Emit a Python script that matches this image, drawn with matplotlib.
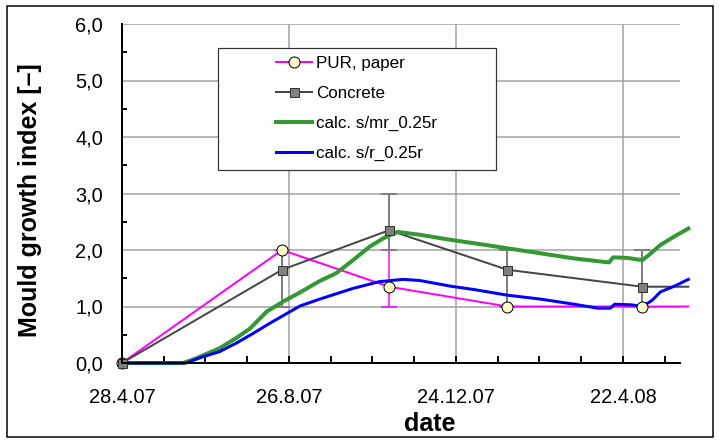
import numpy as np
import matplotlib
matplotlib.use('Agg')
import matplotlib.pyplot as plt
import matplotlib.dates as mdates
from matplotlib.lines import Line2D
from matplotlib.patches import Rectangle
from matplotlib.ticker import FixedLocator, MultipleLocator, FuncFormatter

plt.rcParams['font.family'] = ['Liberation Sans', 'DejaVu Sans']

start = np.datetime64('2007-04-28')

# measured mould index (days after start)
meas_days = [0, 115, 192, 277, 374]
pur_val = [0.0, 2.0, 1.35, 1.0, 1.0]
pur_min = [0.0, 2.0, 1.0, 1.0, 1.0]
pur_max = [0.0, 2.0, 2.0, 1.0, 1.0]
con_val = [0.0, 1.65, 2.35, 1.65, 1.35]
con_min = [0.0, 1.0, 2.0, 1.0, 1.0]
con_max = [0.0, 2.0, 3.0, 2.0, 2.0]

# calculated mould index
mr_days = [0, 44, 53, 70, 82, 92, 104, 116, 128, 142, 154, 166, 178, 188, 198,
           214, 236, 253, 277, 301, 325, 350, 353, 363, 374, 380, 387, 397, 407]
mr_val = [0.0, 0.0, 0.08, 0.26, 0.44, 0.61, 0.91, 1.09, 1.25, 1.45, 1.59, 1.82,
          2.06, 2.21, 2.32, 2.27, 2.18, 2.12, 2.03, 1.94, 1.85, 1.78, 1.87, 1.86,
          1.82, 1.94, 2.09, 2.24, 2.38]
r_days = [0, 46, 58, 70, 82, 94, 106, 118, 128, 142, 166, 185, 202, 214, 236,
          253, 277, 301, 325, 342, 351, 354, 366, 374, 381, 387, 397, 407]
r_val = [0.0, 0.0, 0.11, 0.20, 0.35, 0.52, 0.70, 0.87, 1.01, 1.13, 1.32, 1.44,
         1.48, 1.46, 1.36, 1.30, 1.20, 1.13, 1.04, 0.97, 0.97, 1.04, 1.03, 1.0,
         1.11, 1.26, 1.36, 1.48]

x_days = 401
tick_days = [0, 120, 240, 360]


def to_num(days):
    return mdates.date2num(start + np.array(days, dtype='timedelta64[D]'))


W, H = 719, 441
fig = plt.figure(figsize=(W / 72, H / 72), dpi=72)
ax = fig.add_axes([122 / W, 1 - 363 / H, 558 / W, 339 / H])

mx = to_num(meas_days)
end_x = to_num([mr_days[-1]])[0]

# measured series: lines, range bars, then markers on top
ax.plot(np.append(mx, end_x), pur_val + [pur_val[-1]], color='#ff00ff', lw=2,
        zorder=3, clip_on=False)
ax.plot(np.append(mx, end_x), con_val + [con_val[-1]], color='#474747', lw=2,
        zorder=3, clip_on=False)
ax.errorbar(mx, pur_val,
            yerr=[np.subtract(pur_val, pur_min), np.subtract(pur_max, pur_val)],
            fmt='none', ecolor='#ff00ff', elinewidth=1.5, capsize=8, capthick=1.5,
            zorder=2.5)
ax.errorbar(mx, con_val,
            yerr=[np.subtract(con_val, con_min), np.subtract(con_max, con_val)],
            fmt='none', ecolor='#808080', elinewidth=2, capsize=8, capthick=2,
            zorder=2.6)

ax.plot(to_num(mr_days), mr_val, color='#339933', lw=4, zorder=4, clip_on=False)
ax.plot(to_num(r_days), r_val, color='#0000ff', lw=3, zorder=4.5, clip_on=False)

ax.plot(mx, pur_val, ls='none', marker='o', ms=11, mfc='#ffffcc', mec='black',
        mew=1, zorder=6, clip_on=False)
ax.plot(mx, con_val, ls='none', marker='s', ms=9, mfc='#808080', mec='#333333',
        mew=1, zorder=7, clip_on=False)

ax.set_xlim(to_num([0])[0], to_num([x_days])[0])
ax.set_ylim(0, 6)

ax.xaxis.set_major_locator(FixedLocator(to_num(tick_days)))
ax.xaxis.set_minor_locator(FixedLocator(to_num(np.arange(0, x_days, 30))))
ax.xaxis.set_major_formatter(FuncFormatter(
    lambda v, pos: '{0.day}.{0.month}.{0:%y}'.format(mdates.num2date(v))))
ax.yaxis.set_major_locator(MultipleLocator(1))
ax.yaxis.set_minor_locator(MultipleLocator(0.5))
ax.yaxis.set_major_formatter(FuncFormatter(lambda v, pos: f'{v:.1f}'.replace('.', ',')))

ax.tick_params(axis='both', which='both', direction='in', width=2, color='black',
               labelsize=20)
ax.tick_params(axis='x', which='both', length=7, pad=25)
ax.tick_params(axis='y', which='major', length=0, pad=19)
ax.tick_params(axis='y', which='minor', length=5)

ax.grid(True, which='major', color='#a0a0a0', lw=1.5, zorder=0)
ax.set_axisbelow(True)
for s in ['top', 'right']:
    ax.spines[s].set_visible(False)
for s in ['left', 'bottom']:
    ax.spines[s].set_linewidth(2)
    ax.spines[s].set_zorder(8)

ax.set_xlabel('date', fontsize=25, fontweight='bold')
ax.xaxis.set_label_coords((430 - 122) / 558, -(412 - 363) / 339)
ax.set_ylabel('Mould growth index [–]', fontsize=25, fontweight='bold')
ax.yaxis.set_label_coords((42 - 122) / 558, (363 - 200) / 339)

# legend box
ax.add_patch(Rectangle(((218 - 122) / 558, (363 - 170) / 339), 278 / 558, 122 / 339,
                       transform=ax.transAxes, facecolor='white', edgecolor='#333333',
                       lw=1.2, zorder=9, clip_on=False))
handles = [
    Line2D([], [], color='#ff00ff', lw=2, marker='o', ms=11, mfc='#ffffcc', mec='black'),
    Line2D([], [], color='#474747', lw=2, marker='s', ms=9, mfc='#808080', mec='#333333'),
    Line2D([], [], color='#339933', lw=4),
    Line2D([], [], color='#0000ff', lw=3),
]
labels = ['PUR, paper', 'Concrete', 'calc. s/mr_0.25r', 'calc. s/r_0.25r']
leg = ax.legend(handles, labels, loc='upper left',
                bbox_to_anchor=((276 - 122) / 558, (363 - 56) / 339),
                frameon=False, fontsize=17, borderpad=0, borderaxespad=0,
                handlelength=2.1, handletextpad=0.25, labelspacing=0.87, numpoints=1)
leg.set_zorder(10)

# outer frame
fig.add_artist(Rectangle((7 / W, 1 - 437 / H), 706 / W, 431 / H,
                         transform=fig.transFigure, fill=False, edgecolor='black', lw=1.5))

fig.savefig('out.png', dpi=72)
